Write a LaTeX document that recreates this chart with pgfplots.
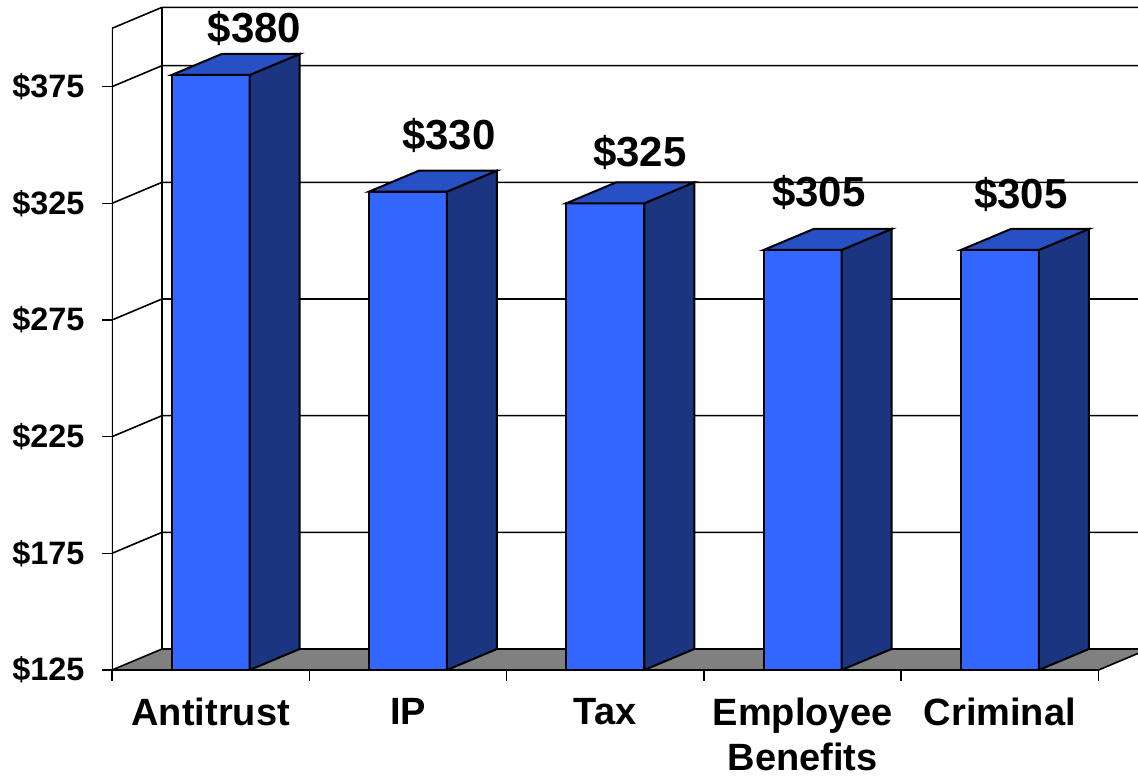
\documentclass[border=0pt]{standalone}
\usepackage{fontspec}
\setmainfont{Liberation Sans}
\usepackage{pgfplots}
\usepackage{pgfplotstable}
\pgfplotsset{compat=1.18}
\definecolor{barfront}{HTML}{3366FF}
\definecolor{barside}{HTML}{1B3580}
\definecolor{bartop}{HTML}{2650C4}
\definecolor{floorgray}{HTML}{808080}
\pgfplotstableread{
x v
0 380
1 330
2 325
3 305
4 305
}\costs
\pgfplotstableread{
lx ly val
0.223 393.9 380
1.208 347.9 330
2.175 340.7 325
3.083 323.6 305
4.107 322.9 305
}\labelpos
\begin{document}
\begin{tikzpicture}
\useasboundingbox (-56pt,-53.5pt) rectangle (513pt,335pt);
\begin{axis}[
  at={(0,0)}, anchor=south west,
  scale only axis, width=513pt, height=335pt,
  xmin=-0.5, xmax=4.7002, ymin=125, ymax=412.14,
  clip=true,
  axis line style={draw=none},
  tick align=outside, tick pos=left,
  major tick length=5pt, minor tick length=5.3pt,
  ytick={125,175,225,275,325,375},
  yticklabels={\$125,\$175,\$225,\$275,\$325,\$375},
  xtick={0,1,2,3,4},
  xticklabels={Antitrust,IP,Tax,{Employee\\Benefits},Criminal},
  minor xtick={-0.5,0.5,1.5,2.5,3.5,4.5},
  every major x tick/.append style={draw=none},
  every minor x tick/.append style={black, line width=0.8pt},
  every major y tick/.append style={black, line width=0.8pt},
  yticklabel style={font=\fontsize{16.2}{18}\selectfont\bfseries, inner sep=0pt, anchor=east, xshift=-8.6pt},
  xticklabel style={font=\fontsize{19}{22.5}\selectfont\bfseries, align=center, inner sep=0pt, anchor=north, yshift=-9pt},
]
% back wall grid and left wall
\addplot[black, line width=0.8pt, mark=none] coordinates {(-0.5,175) (-0.2466,184) (4.7534,184)};
\addplot[black, line width=0.8pt, mark=none] coordinates {(-0.5,225) (-0.2466,234) (4.7534,234)};
\addplot[black, line width=0.8pt, mark=none] coordinates {(-0.5,275) (-0.2466,284) (4.7534,284)};
\addplot[black, line width=0.8pt, mark=none] coordinates {(-0.5,325) (-0.2466,334) (4.7534,334)};
\addplot[black, line width=0.8pt, mark=none] coordinates {(-0.5,375) (-0.2466,384) (4.7534,384)};
\addplot[black, line width=0.8pt, mark=none] coordinates {(-0.5,125) (-0.5,400) (-0.2466,409) (4.7534,409)};
\addplot[black, line width=0.8pt, mark=none] coordinates {(-0.2466,134) (-0.2466,409)};
% floor
\addplot[fill=floorgray, draw=black, line width=0.8pt, mark=none] coordinates {(-0.5,125) (4.5,125) (4.7534,134) (-0.2466,134)} -- cycle;
% bar fronts
\addplot[ybar, bar width=0.3953, bar shift=0pt, fill=barfront, draw=black, line width=1pt] table[x=x,y=v]{\costs};
% bar sides
\addplot[fill=barside, draw=black, line width=1pt, mark=none] coordinates {(0.1977,125) (0.4511,134) (0.4511,389) (0.1977,380)} -- cycle;
\addplot[fill=barside, draw=black, line width=1pt, mark=none] coordinates {(1.1977,125) (1.4511,134) (1.4511,339) (1.1977,330)} -- cycle;
\addplot[fill=barside, draw=black, line width=1pt, mark=none] coordinates {(2.1977,125) (2.4511,134) (2.4511,334) (2.1977,325)} -- cycle;
\addplot[fill=barside, draw=black, line width=1pt, mark=none] coordinates {(3.1977,125) (3.4511,134) (3.4511,314) (3.1977,305)} -- cycle;
\addplot[fill=barside, draw=black, line width=1pt, mark=none] coordinates {(4.1977,125) (4.4511,134) (4.4511,314) (4.1977,305)} -- cycle;
% bar tops
\addplot[fill=bartop, draw=black, line width=1pt, mark=none] coordinates {(-0.1977,380) (0.1977,380) (0.4511,389) (0.0557,389)} -- cycle;
\addplot[fill=bartop, draw=black, line width=1pt, mark=none] coordinates {(0.8023,330) (1.1977,330) (1.4511,339) (1.0557,339)} -- cycle;
\addplot[fill=bartop, draw=black, line width=1pt, mark=none] coordinates {(1.8023,325) (2.1977,325) (2.4511,334) (2.0557,334)} -- cycle;
\addplot[fill=bartop, draw=black, line width=1pt, mark=none] coordinates {(2.8023,305) (3.1977,305) (3.4511,314) (3.0557,314)} -- cycle;
\addplot[fill=bartop, draw=black, line width=1pt, mark=none] coordinates {(3.8023,305) (4.1977,305) (4.4511,314) (4.0557,314)} -- cycle;
% front x axis line
\addplot[black, line width=0.8pt, mark=none] coordinates {(-0.5,125) (4.5,125)};
% value labels
\addplot[draw=none, mark=none, point meta=explicit symbolic,
  nodes near coords={\$\pgfplotspointmeta},
  nodes near coords style={anchor=base, inner sep=0pt, font=\fontsize{21}{24}\selectfont\bfseries}]
  table[x=lx, y=ly, meta=val]{\labelpos};
\end{axis}
\end{tikzpicture}
\end{document}
